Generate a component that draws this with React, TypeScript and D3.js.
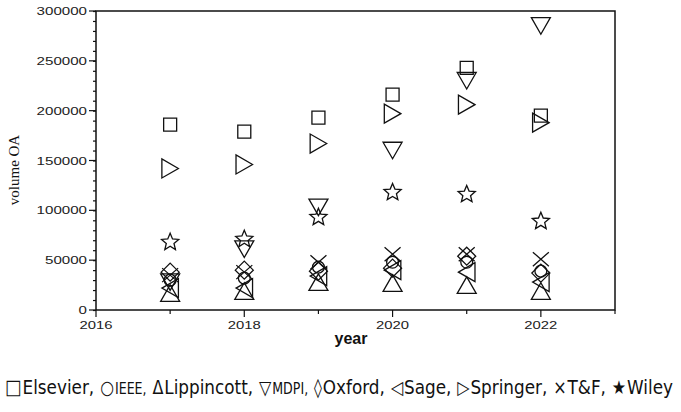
import * as d3 from "d3";
import { useEffect, useRef } from "react";

// data (volume of OA articles per publisher)
const years = [2017, 2018, 2019, 2020, 2021, 2022];
const publishers = ["Elsevier", "IEEE", "Lippincott", "MDPI", "Oxford", "Sage", "Springer", "T&F", "Wiley"];
const elsevier = [186000, 179000, 193000, 216000, 243000, 195000];
const ieee = [30000, 32000, 43000, 48000, 48000, 39000];
const lippincott = [17000, 19000, 28000, 27000, 25000, 19000];
const mdpi = [28000, 61000, 103000, 160000, 230000, 285000];
const oxford = [38000, 40000, 39000, 42000, 54000, 37000];
const sage = [22000, 22000, 34000, 40000, 38000, 28000];
const springer = [142000, 146000, 167000, 197000, 206000, 188000];
const tf = [35000, 38000, 48000, 56000, 56000, 51000];
const wiley = [68000, 71000, 93000, 118000, 116000, 89000];
const seriesValues = [elsevier, ieee, lippincott, mdpi, oxford, sage, springer, tf, wiley];
const yTicks = [0, 50000, 100000, 150000, 200000, 250000, 300000];
const xTicks = [2016, 2018, 2020, 2022];
const legendSymbols = ["□", "○", "Δ", "▽", "◊", "◁", "▷", "×", "★"];

// marker shapes, drawn around (0,0)
const tri = (r: number, dir: "up" | "down" | "left" | "right") => {
  const h = r * 0.87;
  if (dir === "up") return `M0,${-h}L${r},${h}L${-r},${h}Z`;
  if (dir === "down") return `M0,${h}L${r},${-h}L${-r},${-h}Z`;
  if (dir === "left") return `M${-h},0L${h},${-r}L${h},${r}Z`;
  return `M${h},0L${-h},${-r}L${-h},${r}Z`;
};
const star = (R: number) => {
  const pts: string[] = [];
  for (let i = 0; i < 10; i++) {
    const a = (Math.PI / 5) * i - Math.PI / 2;
    const rr = i % 2 === 0 ? R : R * 0.45;
    pts.push(`${rr * Math.cos(a)},${rr * Math.sin(a)}`);
  }
  return "M" + pts.join("L") + "Z";
};
const shapes = [
  "M-6.5,-6.5H6.5V6.5H-6.5Z",
  d3.symbol(d3.symbolCircle, 110)()!,
  tri(9.5, "up"),
  tri(9.5, "down"),
  "M0,-9L9,0L0,9L-9,0Z",
  tri(9.5, "left"),
  tri(9.5, "right"),
  "M-8,-7L8,7M-8,7L8,-7",
  star(9),
];

export default function App() {
  const svgRef = useRef<SVGSVGElement | null>(null);

  useEffect(() => {
    if (!svgRef.current) return;
    const svg = d3.select(svgRef.current);
    svg.selectAll("*").remove();

    const width = 681;
    const height = 412;
    const margin = { top: 11, right: 66, bottom: 102, left: 96 };

    const x = d3.scaleLinear().domain([2016, 2023]).range([margin.left, width - margin.right]);
    const y = d3.scaleLinear().domain([0, 300000]).range([height - margin.bottom, margin.top]);

    svg.attr("viewBox", `0 0 ${width} ${height}`).attr("width", width).attr("height", height);
    svg.append("rect").attr("width", width).attr("height", height).attr("fill", "#fff");

    // frame
    svg
      .append("rect")
      .attr("x", x(2016))
      .attr("y", y(300000))
      .attr("width", x(2023) - x(2016))
      .attr("height", y(0) - y(300000))
      .attr("fill", "none")
      .attr("stroke", "#111")
      .attr("stroke-width", 1.5);

    // y axis: minor ticks every 10000, labelled majors every 50000
    const yAxis = svg
      .append("g")
      .attr("transform", `translate(${x(2016)},0)`)
      .call(
        d3
          .axisLeft(y)
          .tickValues(d3.range(0, 300001, 10000))
          .tickSize(3)
          .tickFormat(() => ""),
      );
    yAxis.select(".domain").remove();
    yAxis.selectAll("line").attr("stroke", "#111").attr("stroke-width", 1.2);
    const yMajor = svg.append("g").attr("transform", `translate(${x(2016)},0)`);
    yMajor
      .selectAll("line")
      .data(yTicks)
      .join("line")
      .attr("x1", -7)
      .attr("x2", 0)
      .attr("y1", (d) => y(d))
      .attr("y2", (d) => y(d))
      .attr("stroke", "#111")
      .attr("stroke-width", 1.2);
    yMajor
      .selectAll("text")
      .data(yTicks)
      .join("text")
      .attr("x", -9)
      .attr("y", (d) => y(d) + 4)
      .attr("text-anchor", "end")
      .attr("font-family", "Liberation Sans, Arial, sans-serif")
      .attr("font-size", 11)
      .attr("textLength", (d) => String(d).length * 8.4)
      .attr("lengthAdjust", "spacingAndGlyphs")
      .attr("fill", "#222")
      .text((d) => String(d));

    // x axis
    const xAxis = svg.append("g").attr("transform", `translate(0,${y(0)})`);
    xAxis
      .selectAll("line")
      .data(d3.range(2016, 2024))
      .join("line")
      .attr("x1", (d) => x(d))
      .attr("x2", (d) => x(d))
      .attr("y1", 0)
      .attr("y2", (d) => (d % 2 === 0 ? 7 : 4))
      .attr("stroke", "#111")
      .attr("stroke-width", 1.2);
    xAxis
      .selectAll("text")
      .data(xTicks)
      .join("text")
      .attr("x", (d) => x(d))
      .attr("y", 19)
      .attr("text-anchor", "middle")
      .attr("font-family", "Liberation Sans, Arial, sans-serif")
      .attr("font-size", 11)
      .attr("textLength", 33)
      .attr("lengthAdjust", "spacingAndGlyphs")
      .attr("fill", "#222")
      .text((d) => String(d));

    // axis titles
    svg
      .append("text")
      .attr("x", 351)
      .attr("y", 344)
      .attr("text-anchor", "middle")
      .attr("font-family", "Liberation Sans, Arial, sans-serif")
      .attr("font-weight", "bold")
      .attr("font-size", 16)
      .attr("fill", "#111")
      .text("year");
    svg
      .append("text")
      .attr("transform", `translate(19,170) rotate(-90)`)
      .attr("text-anchor", "middle")
      .attr("font-family", "Liberation Serif, Times New Roman, serif")
      .attr("font-size", 15)
      .attr("fill", "#111")
      .text("volume OA");

    // markers
    const pts = seriesValues.flatMap((vals, s) => vals.map((v, i) => ({ s, year: years[i], v })));
    svg
      .append("g")
      .selectAll("path")
      .data(pts)
      .join("path")
      .attr("transform", (d) => `translate(${x(d.year)},${y(d.v)})`)
      .attr("d", (d) => shapes[d.s])
      .attr("fill", "none")
      .attr("stroke", "#111")
      .attr("stroke-width", 1.3);

    // legend line: separate texts laid out in a row, then squeezed to fit
    const legend = svg.append("g");
    const inner = legend.append("g");
    let cursor = 0;
    publishers.forEach((p, i) => {
      const sym = inner
        .append("text")
        .attr("x", cursor)
        .attr("y", 0)
        .attr("font-family", "DejaVu Sans, sans-serif")
        .attr("font-size", i === 0 ? 21 : 19)
        .attr("fill", "#111")
        .text(legendSymbols[i]);
      cursor += (sym.node() as SVGTextElement).getComputedTextLength() + 1;
      const label = inner
        .append("text")
        .attr("x", cursor)
        .attr("y", 0)
        .attr("font-family", "DejaVu Sans, sans-serif")
        .attr("font-size", p === "IEEE" || p === "MDPI" ? 15 : 20)
        .attr("fill", "#111")
        .text(p + (i < publishers.length - 1 ? "," : ""));
      cursor += (label.node() as SVGTextElement).getComputedTextLength() + 7;
    });
    const total = cursor - 7;
    const k = 668 / total;
    inner.attr("transform", `translate(5,394) scale(${k},1)`);
  }, []);

  return <svg ref={svgRef} style={{ position: "absolute", left: 0, top: 0, display: "block" }} />;
}
